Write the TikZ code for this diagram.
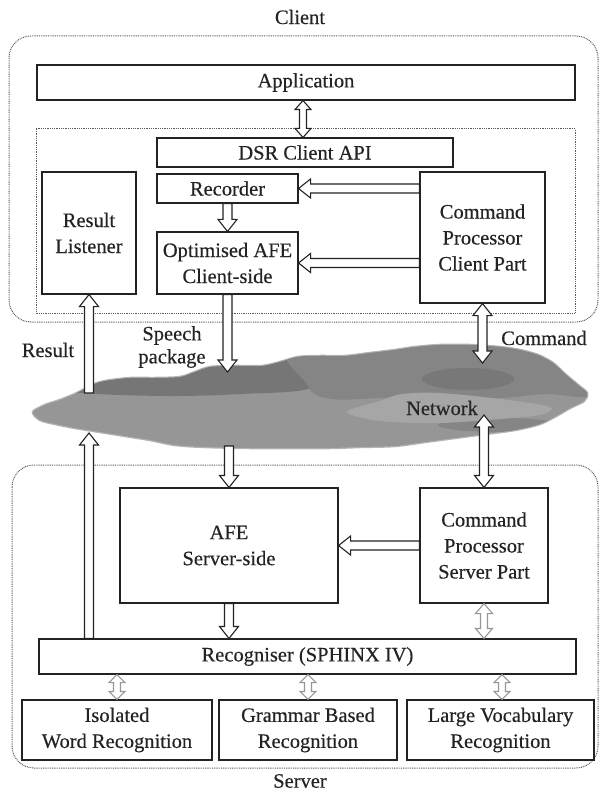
\documentclass[tikz,border=0pt]{standalone}
\usepackage{fontspec}
\setmainfont{Liberation Serif}[FakeBold=0.35]
\usetikzlibrary{calc}

\definecolor{ink}{RGB}{35,35,35}
\definecolor{dotc}{RGB}{90,90,90}
\definecolor{softarrow}{RGB}{150,150,150}
\definecolor{cloudHalo}{RGB}{180,180,180}
\definecolor{cloudA}{RGB}{150,150,150}
\definecolor{cloudB}{RGB}{118,118,118}
\definecolor{cloudC}{RGB}{133,133,133}
\definecolor{cloudD}{RGB}{120,120,120}
\definecolor{cloudE}{RGB}{166,166,166}

\tikzset{
  arS/.store in=\arS, arH/.store in=\arH, arL/.store in=\arL,
  box/.style={draw=ink, line width=1.1pt, fill=white, text=ink, align=center,
    inner sep=2pt, font=\fontsize{20.5}{26}\selectfont},
  lbl/.style={text=ink, align=center, font=\fontsize{20.5}{23}\selectfont},
  zone/.style={draw=dotc, line width=1pt, dash pattern=on 0.9pt off 0.9pt},
  arrowbase/.style={draw=ink, fill=white, line width=1.1pt, line join=miter,
    arS=4.5, arH=9.5, arL=12},
  softsmall/.style={draw=softarrow, arS=3.5, arH=8, arL=8},
  narrow/.style={arS=3.5, arH=8, arL=9},
  % hollow block arrow with one head, drawn from start to target
  onehead/.style={arrowbase, to path={let \p1=(\tikztostart), \p2=(\tikztotarget),
      \n1={atan2(\y2-\y1,\x2-\x1)}, \n2={veclen(\x2-\x1,\y2-\y1)-\arL} in
      ([shift={(\p1)},rotate=\n1]0pt,\arS pt)
      -- ([shift={(\p1)},rotate=\n1]\n2,\arS pt)
      -- ([shift={(\p1)},rotate=\n1]\n2,\arH pt)
      -- (\p2)
      -- ([shift={(\p1)},rotate=\n1]\n2,-\arH pt)
      -- ([shift={(\p1)},rotate=\n1]\n2,-\arS pt)
      -- ([shift={(\p1)},rotate=\n1]0pt,-\arS pt) -- cycle}},
  % hollow block arrow with heads at both ends
  twohead/.style={arrowbase, to path={let \p1=(\tikztostart), \p2=(\tikztotarget),
      \n1={atan2(\y2-\y1,\x2-\x1)}, \n2={veclen(\x2-\x1,\y2-\y1)-\arL} in
      (\p1)
      -- ([shift={(\p1)},rotate=\n1]\arL pt,\arH pt)
      -- ([shift={(\p1)},rotate=\n1]\arL pt,\arS pt)
      -- ([shift={(\p1)},rotate=\n1]\n2,\arS pt)
      -- ([shift={(\p1)},rotate=\n1]\n2,\arH pt)
      -- (\p2)
      -- ([shift={(\p1)},rotate=\n1]\n2,-\arH pt)
      -- ([shift={(\p1)},rotate=\n1]\n2,-\arS pt)
      -- ([shift={(\p1)},rotate=\n1]\arL pt,-\arS pt)
      -- ([shift={(\p1)},rotate=\n1]\arL pt,-\arH pt) -- cycle}},
}

% outline of the network cloud
\newcommand\cloudoutline{
  plot[smooth cycle, tension=0.5] coordinates {
  (33,412) (45,405) (60,400) (77,393) (92,385) (105,381) (130,378) (155,378)
  (180,377) (195,372) (210,367) (235,366) (262,366) (280,362) (298,357)
  (320,356) (345,356) (370,353) (395,350) (415,347) (440,345) (470,345)
  (500,347) (520,350) (538,355) (553,363) (565,374) (578,385) (587,393)
  (584,401) (570,408) (558,415) (540,424) (515,430) (485,434) (455,438)
  (425,442) (395,446) (360,447) (330,448) (290,448) (250,448) (205,447)
  (175,445) (150,440) (125,436) (100,432) (75,428) (55,424) (40,420)}
}

\begin{document}
\begin{tikzpicture}[x=1pt, y=-1pt]
\useasboundingbox (0,0) rectangle (599,794);

% client and server areas
\draw[zone, rounded corners=22pt] (9,36) rectangle (598,322);
\draw[zone] (36,129) rectangle (575,313);
\draw[zone, rounded corners=22pt] (12,465) rectangle (598,768);

% network cloud: soft rim, then shaded body clipped to the outline
\draw[cloudHalo, line width=2.5pt] \cloudoutline;
\begin{scope}
  \clip \cloudoutline;
  \fill[cloudA] (20,330) rectangle (600,460);
  \fill[cloudB] plot[smooth cycle, tension=0.6] coordinates {
    (70,360) (200,340) (322,340) (324,370) (308,389) (240,394) (180,396)
    (120,395) (86,393) (72,390)};
  \fill[cloudC] plot[smooth cycle, tension=0.6] coordinates {
    (306,338) (600,338) (600,393) (545,394) (500,398) (440,396) (380,398)
    (332,399) (308,386)};
  \fill[cloudD] (468,379) ellipse [x radius=46pt, y radius=11pt];
  \fill[cloudC] (500,425) ellipse [x radius=62pt, y radius=7pt];
  \fill[cloudE] plot[smooth cycle, tension=0.55] coordinates {
    (347,412) (380,401) (402,394) (440,393) (500,399) (550,407) (540,415)
    (500,419) (440,423) (380,421)};
\end{scope}

% client blocks
\node[box, minimum width=538pt, minimum height=35pt] (app) at (306,82.5) {Application};
\node[box, minimum width=296pt, minimum height=29pt] (dsr) at (305,152.5) {DSR Client API};
\node[box, minimum width=141pt, minimum height=29pt] (rec) at (227.5,188.5) {Recorder};
\node[box, minimum width=141pt, minimum height=62pt] (afec) at (227.5,263) {Optimised AFE\\Client-side};
\node[box, minimum width=94pt, minimum height=122pt] (rl) at (89,233) {Result\\Listener};
\node[box, minimum width=125pt, minimum height=131pt] (cmdc) at (482.5,237.5) {Command\\Processor\\Client Part};

% server blocks
\node[box, minimum width=218pt, minimum height=115pt] (afes) at (229,545.5) {AFE\\Server-side};
\node[box, minimum width=128pt, minimum height=115pt] (cmds) at (484,545.5) {Command\\Processor\\Server Part};
\node[box, minimum width=537pt, minimum height=35pt] (recog) at (307.5,656.5) {Recogniser (SPHINX IV)};
\node[box, minimum width=190pt, minimum height=60pt] (iso) at (117,730) {Isolated\\Word Recognition};
\node[box, minimum width=178pt, minimum height=60pt] (gram) at (308,730) {Grammar Based\\Recognition};
\node[box, minimum width=187pt, minimum height=60pt] (large) at (500.5,730) {Large Vocabulary\\Recognition};

% free ends of the links inside the cloud
\coordinate (resA) at (89,393);
\coordinate (resB) at (89,433);
\coordinate (spA) at (227.5,372);
\coordinate (spB) at (229,446);
\coordinate (cmA) at (482.5,363);
\coordinate (cmB) at (484,415);

% client links
\path[twohead, narrow] ([xshift=-3pt]app.south) to ([xshift=-3pt]app.south |- dsr.north);
\path[onehead] (rec.south) to (afec.north);
\path[onehead] (cmdc.west |- rec.east) to (rec.east);
\path[onehead] (cmdc.west |- afec.east) to (afec.east);
\path[onehead] (afec.south) to (spA);
\path[onehead] (resA) to (rl.south);
\path[twohead] (cmdc.south) to (cmA);

% server links
\path[onehead] (spB) to (afes.north);
\path[twohead] (cmB) to (cmds.north);
\path[onehead] (cmds.west) to (afes.east);
\path[onehead] (afes.south) to (afes.south |- recog.north);
\path[onehead] (rl.south |- recog.north) to (resB);
\path[twohead, softsmall, arL=10, arH=8.5] (cmds.south) to (cmds.south |- recog.north);
\path[twohead, softsmall] (iso.north |- recog.south) to (iso.north);
\path[twohead, softsmall] (gram.north |- recog.south) to (gram.north);
\path[twohead, softsmall] ([xshift=1.5pt]large.north |- recog.south) to ([xshift=1.5pt]large.north);

% labels
\node[lbl] (clientlbl) at (300,17) {Client};
\node[lbl] (serverlbl) at (300,781) {Server};
\node[lbl] (reslbl) at (48,350) {Result};
\node[lbl] (speechlbl) at (172,347) {Speech\\package};
\node[lbl] (cmdlbl) at (544,338) {Command};
\node[lbl, text=black!85] (netlbl) at (442,408) {Network};
\end{tikzpicture}
\end{document}
